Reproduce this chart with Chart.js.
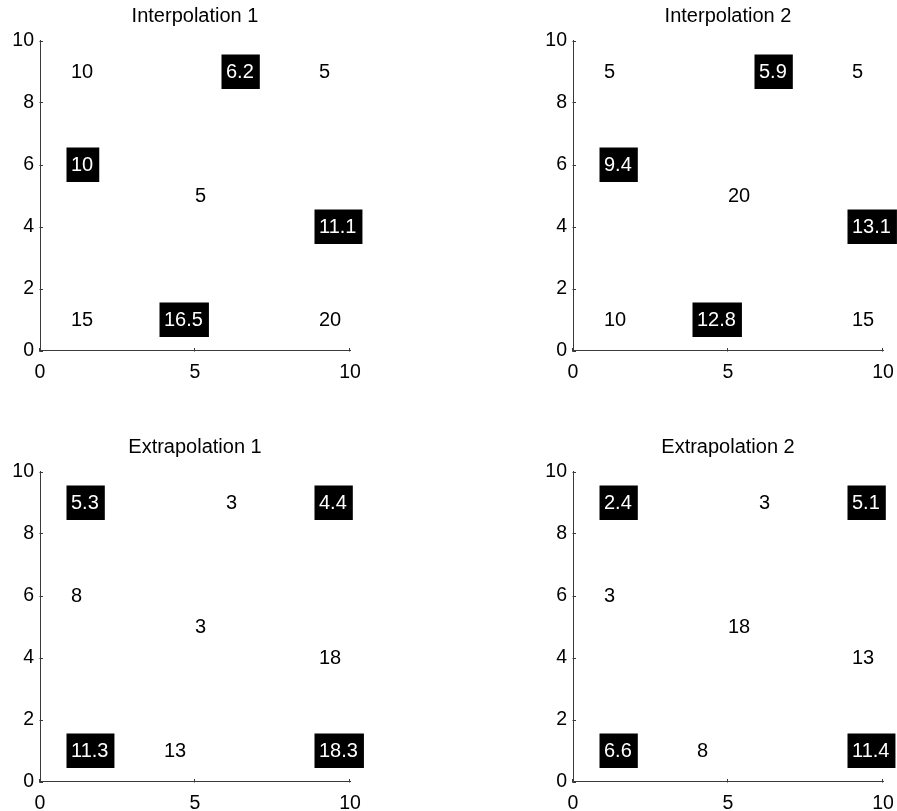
<!DOCTYPE html>
<html>
<head>
<meta charset="utf-8">
<script src="https://cdn.jsdelivr.net/npm/chart.js@4/dist/chart.umd.min.js"></script>
<style>
  body { margin: 0; background: #fff; overflow: hidden; }
  canvas { position: absolute; }
</style>
</head>
<body>
<canvas id="p1" width="371" height="381" style="left:0px;top:0px"></canvas>
<canvas id="p2" width="371" height="381" style="left:533px;top:0px"></canvas>
<canvas id="p3" width="371" height="381" style="left:0px;top:431px"></canvas>
<canvas id="p4" width="371" height="381" style="left:533px;top:431px"></canvas>
<script>
// known sample positions and query positions (data units)
const interpKnownX = [1, 9, 5, 1, 9]
const interpKnownY = [9, 9, 5, 1, 1]
const interpQueryX = [6, 1, 9, 4]
const interpQueryY = [9, 6, 4, 1]

const extrapKnownX = [6, 1, 5, 9, 4]
const extrapKnownY = [9, 6, 5, 4, 1]
const extrapQueryX = [1, 9, 1, 9]
const extrapQueryY = [9, 9, 1, 1]

// values written at those positions
const interp1Known = [10, 5, 5, 15, 20]
const interp1Query = [6.2, 10, 11.1, 16.5]
const interp2Known = [5, 5, 20, 10, 15]
const interp2Query = [5.9, 9.4, 13.1, 12.8]
const extrap1Known = [3, 8, 3, 18, 13]
const extrap1Query = [5.3, 4.4, 11.3, 18.3]
const extrap2Known = [3, 3, 18, 13, 8]
const extrap2Query = [2.4, 5.1, 6.6, 11.4]

const xTicks = [0, 5, 10]
const yTicks = [0, 2, 4, 6, 8, 10]

const FONT = '"Liberation Sans", Arial, Helvetica, sans-serif'
const AXIS_COLOR = '#3a3a3a'

const points = (xs, ys) => xs.map((x, i) => ({ x: x, y: ys[i] }))

// draws the value next to each point, boxed ones get a black background
const valueLabels = {
    id: 'valueLabels',
    afterDatasetsDraw(chart) {
        const ctx = chart.ctx
        ctx.save()
        ctx.font = '20px ' + FONT
        ctx.textAlign = 'left'
        ctx.textBaseline = 'middle'
        chart.data.datasets.forEach((ds, di) => {
            const meta = chart.getDatasetMeta(di)
            meta.data.forEach((el, i) => {
                const txt = String(ds.values[i])
                if (ds.boxed) {
                    const w = ctx.measureText(txt).width
                    ctx.fillStyle = '#000'
                    ctx.fillRect(el.x - 4.5, el.y - 17, w + 10.5, 34.5)
                    ctx.fillStyle = '#fff'
                } else {
                    ctx.fillStyle = '#000'
                }
                ctx.fillText(txt, el.x, el.y + 1)
            })
        })
        ctx.restore()
    }
}

// matlab style ticks pointing into the axes
const innerTicks = {
    id: 'innerTicks',
    afterDraw(chart) {
        const ctx = chart.ctx
        const xs = chart.scales.x, ys = chart.scales.y
        const area = chart.chartArea
        ctx.save()
        ctx.strokeStyle = AXIS_COLOR
        ctx.lineWidth = 1
        ctx.beginPath()
        xTicks.forEach(v => {
            const px = Math.round(xs.getPixelForValue(v)) - 0.5
            ctx.moveTo(px, Math.round(area.bottom) + 0.5)
            ctx.lineTo(px, Math.round(area.bottom) - 3)
        })
        yTicks.forEach(v => {
            const py = Math.round(ys.getPixelForValue(v)) + 0.5
            ctx.moveTo(Math.round(area.left) - 0.5, py)
            ctx.lineTo(Math.round(area.left) + 3, py)
        })
        ctx.stroke()
        ctx.restore()
    }
}

function makePanel(id, title, knownX, knownY, knownV, queryX, queryY, queryV) {
    return new Chart(document.getElementById(id), {
        type: 'scatter',
        data: {
            datasets: [
                { label: 'known', data: points(knownX, knownY), values: knownV, boxed: false, pointRadius: 0 },
                { label: 'estimated', data: points(queryX, queryY), values: queryV, boxed: true, pointRadius: 0 }
            ]
        },
        options: {
            responsive: false,
            animation: false,
            events: [],
            layout: { padding: { left: 0, top: 0, right: 21, bottom: 0.5 } },
            plugins: {
                legend: { display: false },
                tooltip: { enabled: false },
                title: {
                    display: true,
                    text: title,
                    fullSize: false,
                    color: '#000',
                    font: { family: FONT, size: 20, weight: 'normal' },
                    padding: { top: 4, bottom: 12.5 }
                }
            },
            scales: {
                x: {
                    type: 'linear',
                    min: 0,
                    max: 10,
                    afterBuildTicks(scale) { scale.ticks = xTicks.map(v => ({ value: v })) },
                    afterFit(scale) { scale.height = 30 },
                    grid: { display: false, drawTicks: false },
                    border: { display: true, color: AXIS_COLOR, width: 1 },
                    ticks: { color: '#000', padding: 10, maxRotation: 0, font: { family: FONT, size: 19.5 } }
                },
                y: {
                    type: 'linear',
                    min: 0,
                    max: 10,
                    afterBuildTicks(scale) { scale.ticks = yTicks.map(v => ({ value: v })) },
                    afterFit(scale) { scale.width = 40 },
                    grid: { display: false, drawTicks: false },
                    border: { display: true, color: AXIS_COLOR, width: 1 },
                    ticks: { color: '#000', padding: 6, font: { family: FONT, size: 19.5 } }
                }
            }
        },
        plugins: [valueLabels, innerTicks]
    })
}

makePanel('p1', 'Interpolation 1', interpKnownX, interpKnownY, interp1Known, interpQueryX, interpQueryY, interp1Query)
makePanel('p2', 'Interpolation 2', interpKnownX, interpKnownY, interp2Known, interpQueryX, interpQueryY, interp2Query)
makePanel('p3', 'Extrapolation 1', extrapKnownX, extrapKnownY, extrap1Known, extrapQueryX, extrapQueryY, extrap1Query)
makePanel('p4', 'Extrapolation 2', extrapKnownX, extrapKnownY, extrap2Known, extrapQueryX, extrapQueryY, extrap2Query)
</script>
</body>
</html>
